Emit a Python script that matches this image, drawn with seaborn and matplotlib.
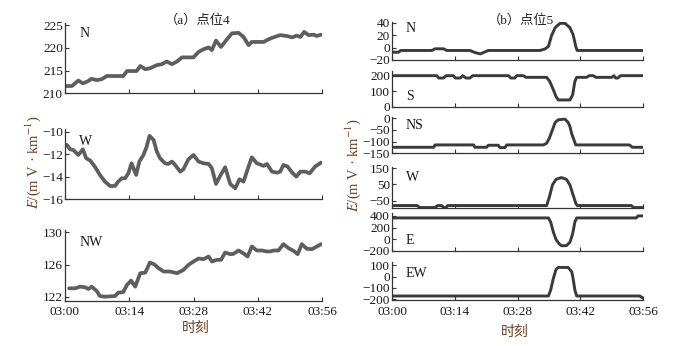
import numpy as np
import pandas as pd
import matplotlib
matplotlib.use("Agg")
import matplotlib.pyplot as plt
import seaborn as sns

# time in minutes after 03:00
xticks = [0, 14, 28, 42, 56]
xticklabels = ["03:00", "03:14", "03:28", "03:42", "03:56"]

# (a) point 4
t4_N = [0.3, 1.5, 2.9, 3.9, 4.9, 5.8, 6.9, 8.0, 9.1, 12.7, 13.5, 15.6, 16.4, 17.5, 18.5, 20.0, 21.1, 22.2, 23.3, 24.4,
        25.5, 28.0, 29.1, 30.2, 31.3, 32.0, 32.9, 34.0, 35.3, 36.4, 37.8, 38.9, 40.0, 40.7, 43.3, 44.0, 45.1, 46.9, 48.4, 49.5,
        50.5, 51.3, 52.1, 53.1, 54.2, 54.8, 55.8]
v4_N = [211.6, 211.6, 212.8, 212.2, 212.6, 213.2, 212.9, 213.1, 213.8, 213.8, 214.9, 214.9, 216.0, 215.3, 215.5, 216.2, 216.4, 217.0, 216.4, 217.0,
        217.9, 217.9, 219.1, 219.7, 220.1, 219.5, 221.6, 220.2, 221.9, 223.2, 223.3, 222.4, 220.6, 221.3, 221.3, 221.7, 222.2, 222.8, 222.6, 222.3,
        222.7, 222.4, 223.5, 222.8, 222.9, 222.6, 222.9]

t4_W = [0.4, 1.1, 1.8, 2.9, 3.9, 4.6, 5.5, 6.5, 7.6, 8.7, 9.8, 10.9, 11.6, 12.4, 13.1, 13.8, 14.5, 15.5, 16.2, 17.1,
        17.8, 18.4, 19.3, 20.0, 20.7, 21.8, 22.5, 23.3, 24.0, 25.1, 25.8, 26.9, 28.0, 29.1, 30.2, 31.3, 32.0, 32.9, 33.8, 34.9,
        36.0, 37.1, 38.0, 38.9, 40.0, 40.7, 41.8, 43.3, 44.0, 45.1, 46.2, 46.9, 47.6, 48.5, 49.5, 50.4, 51.3, 52.4, 53.3, 54.5, 55.8]
v4_W = [-11.18, -11.57, -11.63, -12.07, -11.57, -12.36, -12.57, -13.10, -13.84, -14.43, -14.82, -14.82, -14.43, -14.14, -14.14, -13.70, -12.81, -13.84, -12.66, -12.07,
        -11.33, -10.38, -10.74, -11.77, -12.36, -12.81, -12.87, -12.66, -12.96, -13.55, -13.34, -12.45, -12.07, -12.66, -12.81, -12.87, -13.25, -14.64, -13.93, -13.16,
        -14.64, -15.03, -14.23, -14.43, -13.10, -12.28, -12.81, -13.04, -12.87, -13.55, -13.64, -13.55, -12.96, -13.10, -13.64, -13.99, -13.55, -13.55, -13.70, -13.10, -12.75]

t4_NW = [0.9, 2.2, 3.3, 4.4, 5.1, 5.8, 6.9, 7.6, 8.7, 10.9, 11.6, 12.7, 13.5, 14.4, 15.3, 16.4, 17.5, 18.5, 19.4, 20.4,
         21.5, 22.9, 24.4, 25.8, 26.9, 28.0, 29.1, 30.2, 31.3, 32.0, 33.1, 34.0, 34.9, 36.0, 36.7, 37.8, 38.8, 39.8, 40.7, 41.8,
         42.9, 44.0, 44.7, 45.5, 46.5, 47.6, 48.7, 49.8, 50.7, 51.6, 52.7, 53.8, 54.9, 55.8]
v4_NW = [123.04, 123.04, 123.25, 123.17, 122.96, 123.25, 122.71, 122.08, 122.0, 122.08, 122.5, 122.58, 123.46, 124.0, 123.25, 124.92, 125.0, 126.25, 126.04, 125.54,
         125.13, 125.13, 124.92, 125.33, 125.96, 126.38, 126.75, 126.67, 127.0, 126.38, 126.58, 126.58, 127.5, 127.29, 127.33, 127.75, 127.42, 127.0, 128.25, 127.75,
         127.75, 127.63, 127.63, 127.75, 127.75, 128.54, 128.04, 127.71, 127.29, 128.54, 127.96, 127.92, 128.25, 128.54]

# (b) point 5
t5_N = [0.2, 1.5, 1.9, 8.9, 9.6, 11.5, 12.2, 17.4, 18.5, 19.7, 20.4, 21.5, 33.0, 34.1, 34.9, 35.6, 36.4, 37.5, 38.6, 39.7, 40.4, 41.0, 41.3, 56.0]
v5_N = [-7.5, -7.5, -4.7, -4.7, -2.0, -2.0, -4.7, -4.7, -8.0, -10.2, -8.0, -4.7, -4.7, -2.5, 1.8, 19.3, 31.8, 38.9, 38.9, 31.8, 20.9, 1.8, -4.7, -4.7]

t5_S = [0.4, 10.0, 10.4, 11.5, 12.1, 13.7, 14.1, 15.2, 15.8, 16.5, 17.4, 18.0, 26.0, 26.5, 27.4, 27.8, 29.3, 29.9, 34.5, 35.2,
        36.0, 36.6, 37.1, 39.7, 40.3, 40.8, 41.2, 43.4, 44.0, 44.9, 45.5, 49.0, 49.5, 49.9, 50.4, 51.0, 56.0]
v5_S = [200, 200, 184.8, 184.8, 200, 200, 184.8, 184.8, 200, 184.8, 184.8, 200, 200, 184.8, 184.8, 200, 200, 189.1, 189.1, 163,
        108.7, 65.2, 43.5, 43.5, 76.1, 163, 189.1, 189.1, 200, 200, 189.1, 189.1, 200, 184.8, 184.8, 200, 200]

t5_NS = [0.4, 9.3, 9.6, 18.2, 18.5, 21.1, 21.5, 23.7, 24.1, 25.2, 25.6, 33.8, 34.5, 35.1, 35.8, 36.4, 37.1, 38.6, 39.3, 39.7,
         40.1, 40.6, 41.0, 53.0, 53.6, 56.0]
v5_NS = [-124.3, -124.3, -114.3, -114.3, -124.3, -124.3, -115.7, -115.7, -125.7, -125.7, -114.3, -114.3, -107.1, -85.7, -50, -18.6, -7.1, -4.3, -18.6, -35.7,
         -67.1, -92.9, -114.3, -114.3, -124.3, -124.3]

t5_W = [0.4, 5.6, 6.2, 9.6, 10.2, 11.1, 11.5, 12.1, 12.4, 34.5, 35.1, 35.8, 36.6, 37.8, 38.9, 39.7, 40.4, 41.0, 41.3, 53.4, 53.9, 56.0]
v5_W = [-80.9, -80.9, -93.3, -93.3, -80.9, -80.9, -93.3, -93.3, -80.9, -80.9, -29.4, 46.9, 82.0, 92.3, 82.0, 46.9, -15.0, -66.5, -80.9, -80.9, -93.3, -93.3]

t5_E = [0.2, 34.9, 35.4, 36.0, 36.6, 37.3, 37.8, 38.9, 39.7, 40.3, 40.8, 41.2, 54.5, 54.9, 56.0]
v5_E = [365, 365, 295, 120, -8, -83, -113, -113, -54, 91, 295, 365, 365, 400, 400]

t5_EW = [0.2, 34.9, 35.4, 36.0, 36.6, 37.1, 39.3, 40.1, 40.4, 40.8, 41.2, 55.3, 56.0]
v5_EW = [-170.9, -170.9, -118.5, -16.5, 62.1, 79.6, 79.6, 41.7, -16.5, -118.5, -170.9, -170.9, -191.3]

sns.set_theme(style="ticks")
plt.rcParams["font.family"] = ["Liberation Serif", "Noto Sans CJK SC"]
plt.rcParams["mathtext.fontset"] = "stix"
plt.rcParams["axes.unicode_minus"] = True

W, H = 693, 346
fig = plt.figure(figsize=(6.93, 3.46), dpi=100)


def px_axes(x0, x1, top, bottom):
    return fig.add_axes([x0 / W, 1 - bottom / H, (x1 - x0) / W, (bottom - top) / H])


left_panels = [
    # t, v, ylim, yticks, label, label_y, (top, bottom)
    (t4_N, v4_N, (210, 225.4), [210, 215, 220, 225], "N", 0.86, (23.3, 93.3)),
    (t4_W, v4_W, (-16, -9.8), [-16, -14, -12, -10], "W", 0.82, (129.3, 199.3)),
    (t4_NW, v4_NW, (121.5, 130.3), [122, 126, 130], "NW", 0.83, (230, 300.7)),
]
right_panels = [
    (t5_N, v5_N, (-20, 41), [-20, 0, 20, 40], "N", 0.82, (22, 60)),
    (t5_S, v5_S, (0, 232), [0, 100, 200], "S", 0.27, (70.7, 106.7)),
    (t5_NS, v5_NS, (-150, 6), [-150, -100, -50, 0], "NS", 0.75, (116.7, 153.3)),
    (t5_W, v5_W, (-98, 160), [-50, 50, 150], "W", 0.75, (166.7, 208.3)),
    (t5_E, v5_E, (-190, 450), [-200, 0, 200, 400], "E", 0.28, (213, 250.7)),
    (t5_EW, v5_EW, (-206, 130), [-200, -100, 0, 100], "EW", 0.70, (261.7, 300)),
]


def draw(panels, x0, x1, color, lw):
    axes = []
    for i, (t, v, ylim, yt, lab, ly, (top, bot)) in enumerate(panels):
        ax = px_axes(x0, x1, top, bot)
        df = pd.DataFrame({"t": t, "v": v})
        sns.lineplot(data=df, x="t", y="v", ax=ax, color=color, lw=lw,
                     estimator=None, sort=False, solid_joinstyle="round", solid_capstyle="round")
        ax.set_xlim(0, 56)
        ax.set_ylim(*ylim)
        ax.set_yticks(yt)
        ax.set_xticks(xticks)
        ax.set_xlabel("")
        ax.set_ylabel("")
        for s in ["top", "right"]:
            ax.spines[s].set_visible(False)
        for s in ["left", "bottom"]:
            ax.spines[s].set_color("#333333")
            ax.spines[s].set_linewidth(0.9)
        ax.tick_params(direction="in", length=3, width=0.8, color="#333333",
                       labelsize=9.5, labelcolor="#1a1a1a")
        ax.tick_params(axis="y", pad=1.5)
        ax.tick_params(axis="x", pad=4)
        if i == len(panels) - 1:
            ax.set_xticklabels(xticklabels)
        else:
            ax.set_xticklabels([])
        ax.text(0.055, ly, lab, transform=ax.transAxes, ha="left", va="center",
                fontsize=10, color="#1a1a1a")
        ax.patch.set_alpha(0)
        axes.append(ax)
    return axes


draw(left_panels, 65, 322, "#5e5e5e", 2.7)
draw(right_panels, 392, 643, "#3a3a3a", 2.1)

fig.text(198 / W, 1 - 20 / H, "（a）点位4", ha="center", va="center", fontsize=9.5, color="#222222")
fig.text(521 / W, 1 - 20 / H, "（b）点位5", ha="center", va="center", fontsize=9.5, color="#222222")

ylab = "$E$/(m V · km$^{-1}$)"
fig.text(33 / W, 1 - 162 / H, ylab, rotation=90, ha="center", va="center", fontsize=10.5, color="#6b3f22")
fig.text(353 / W, 1 - 165 / H, ylab, rotation=90, ha="center", va="center", fontsize=10.5, color="#6b3f22")

fig.text(196 / W, 1 - 328 / H, "时刻", ha="center", va="center", fontsize=10, color="#6b3f22")
fig.text(515 / W, 1 - 332 / H, "时刻", ha="center", va="center", fontsize=10, color="#6b3f22")

fig.savefig("out.png", dpi=100, facecolor="white")
